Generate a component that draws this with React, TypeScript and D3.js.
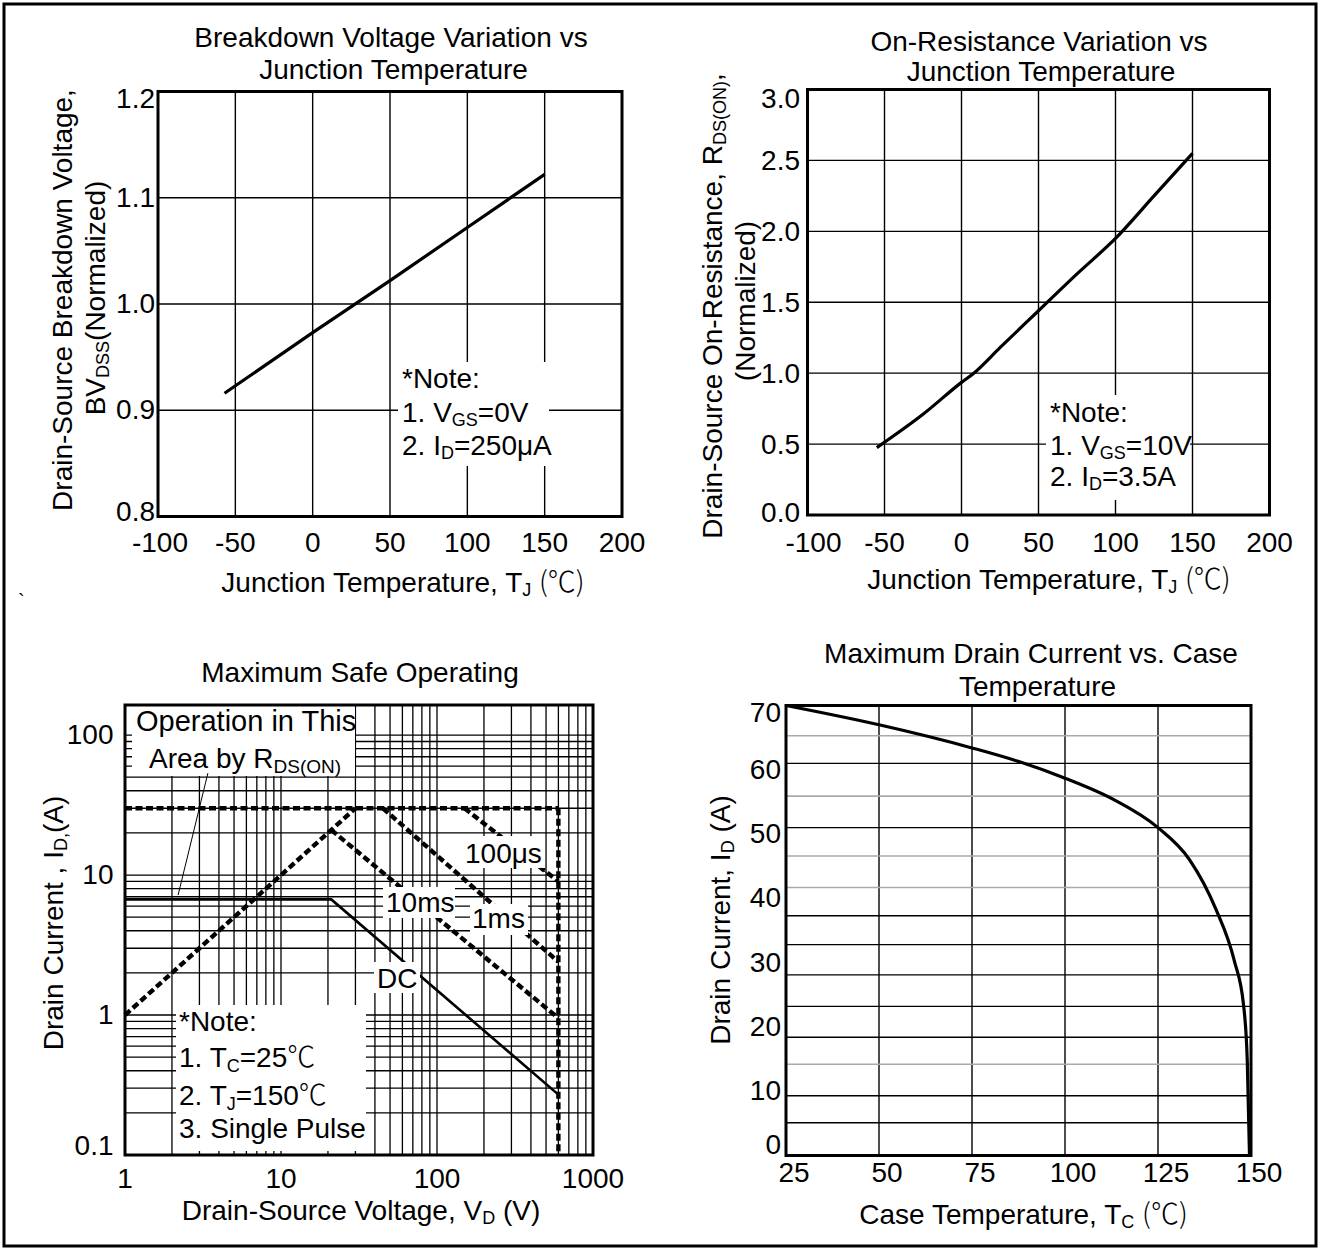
import React from 'react';
import * as d3 from 'd3';

const FONT = "'Liberation Sans', Arial, Helvetica, sans-serif";
const CJK = "'Noto Sans CJK SC', 'DejaVu Sans', sans-serif";
const FS = 28;
const SUB = 18;

// ---------- Panel 1: Breakdown voltage vs junction temperature ----------
const bvTemp = [-57, 0, 50, 100, 150];
const bvValue = [0.916, 0.973, 1.022, 1.072, 1.122];
const bvXTicks = [-100, -50, 0, 50, 100, 150, 200];
const bvYTicks = [0.8, 0.9, 1.0, 1.1, 1.2];

// ---------- Panel 2: On-resistance vs junction temperature ----------
const rdsTemp = [-55, -25, 0, 8, 25, 50, 75, 100, 125, 150];
const rdsValue = [0.475, 0.71, 0.935, 1.0, 1.18, 1.44, 1.7, 1.95, 2.25, 2.55];
const rdsXTicks = [-100, -50, 0, 50, 100, 150, 200];
const rdsYTicks = [0, 0.5, 1.0, 1.5, 2.0, 2.5, 3.0];

// ---------- Panel 3: Safe operating area ----------
const soaXTicks = [1, 10, 100, 1000];
const soaYTicks = [0.1, 1, 10, 100];
const rdsLimitV = [1, 30];
const rdsLimitI = [1, 30];
const currentLimitV = [1, 600];
const currentLimitI = [30, 30];
const voltageLimitV = [600, 600];
const voltageLimitI = [30, 0.1];
const pulse100usV = [150, 600];
const pulse100usI = [30, 9];
const pulse1msV = [45, 600];
const pulse1msI = [30, 2.4];
const pulse10msV = [21, 600];
const pulse10msI = [21, 0.95];
const dcV = [1, 21, 600];
const dcI = [6.7, 6.7, 0.27];

// ---------- Panel 4: Max drain current vs case temperature ----------
const caseTemp = [25, 50, 75, 88, 100, 113, 125, 133.5, 140.5, 145.5, 148, 149, 149.6];
const drainCurrent = [70, 67, 63.4, 61.2, 58.7, 55.4, 51, 46, 38.4, 30.3, 23.4, 14.7, 0];
const caseXTicks = [25, 50, 75, 100, 125, 150];
const caseYTicks = [0, 10, 20, 30, 40, 50, 60, 70];
const caseXGrid = [50, 75, 100, 125];
const caseGridDark = [61, 51, 37.3, 32.8, 28.1, 23.2, 18.4, 9.3, 5.1];
const caseGridLight = [65.3, 55.9, 46.6, 41.7, 14.2];

const zip = (a: number[], b: number[]) => a.map((v, i) => [v, b[i]] as [number, number]);

export default function App() {
  // scales
  const p1x = d3.scaleLinear().domain([-100, 200]).range([158, 622]);
  const p1y = d3.scaleLinear().domain([0.8, 1.2]).range([516.5, 91.5]);
  const p2x = d3.scaleLinear().domain([-100, 200]).range([807.5, 1269.5]);
  const p2y = d3.scaleLinear().domain([0, 3]).range([515, 89.5]);
  const p3x = d3.scaleLog().domain([1, 1000]).range([125, 593]);
  const p3y = d3.scaleLog().domain([0.1, 164]).range([1155, 705]);
  const p4x = d3.scaleLinear().domain([25, 150]).range([786, 1251]);
  const p4y = d3.scaleLinear().domain([0, 70]).range([1155.5, 705.5]);

  const line1 = d3.line<[number, number]>().x(d => p1x(d[0])).y(d => p1y(d[1]));
  const line2 = d3.line<[number, number]>().x(d => p2x(d[0])).y(d => p2y(d[1])).curve(d3.curveMonotoneX);
  const line3 = d3.line<[number, number]>().x(d => p3x(d[0])).y(d => p3y(d[1]));
  const line4 = d3.line<[number, number]>().x(d => p4x(d[0])).y(d => p4y(d[1])).curve(d3.curveMonotoneX);

  const soaXGrid = p3x.ticks();
  const soaYGrid = p3y.ticks().filter(v => v <= 100);

  const dotted = { stroke: '#000', strokeWidth: 4.4, strokeDasharray: '7 3.5', fill: 'none' } as any;
  const sub = (t: string, dy = 4, size = SUB) => (
    <tspan fontSize={size} dy={dy}>{t}</tspan>
  );

  return (
    <svg width={1325} height={1249} style={{ position: 'absolute', left: 0, top: 0, background: '#fff' }}
      fontFamily={FONT} fontSize={FS} fill="#000">
      <rect x={0} y={0} width={1325} height={1249} fill="#fff" />
      <rect x={4} y={4} width={1312} height={1242} fill="none" stroke="#000" strokeWidth={3} />
      <text x={18} y={608} fontSize={20}>`</text>

      {/* ================= Panel 1 ================= */}
      <g>
        {bvXTicks.slice(1, -1).map(v => (
          <line key={'p1gx' + v} x1={p1x(v)} x2={p1x(v)} y1={p1y(1.2)} y2={p1y(0.8)} stroke="#000" strokeWidth={1.4} />
        ))}
        {bvYTicks.slice(1, -1).map(v => (
          <line key={'p1gy' + v} x1={p1x(-100)} x2={p1x(200)} y1={p1y(v)} y2={p1y(v)} stroke="#000" strokeWidth={1.4} />
        ))}
        <path d={line1(zip(bvTemp, bvValue)) || ''} fill="none" stroke="#000" strokeWidth={3.2} />
        <rect x={398} y={362} width={151} height={104} fill="#fff" />
        <rect x={p1x(-100)} y={p1y(1.2)} width={p1x(200) - p1x(-100)} height={p1y(0.8) - p1y(1.2)} fill="none" stroke="#000" strokeWidth={3} />
        <text x={391} y={46.5} textAnchor="middle">Breakdown Voltage Variation vs</text>
        <text x={393.5} y={79} textAnchor="middle">Junction Temperature</text>
        {bvXTicks.map(v => (
          <text key={'p1tx' + v} x={p1x(v) + (v === -100 ? 2 : 0)} y={552} textAnchor="middle">{v}</text>
        ))}
        {bvYTicks.map(v => (
          <text key={'p1ty' + v} x={155} y={Math.min(Math.max(p1y(v) + 9, 107.5), 521)} textAnchor="end">{v.toFixed(1)}</text>
        ))}
        <text transform="translate(72,300) rotate(-90)" textAnchor="middle">Drain-Source Breakdown Voltage,</text>
        <text transform="translate(105,298) rotate(-90)" textAnchor="middle">BV{sub('DSS')}<tspan dy={-4}>(Normalized)</tspan></text>
        <text x={403} y={592} textAnchor="middle">Junction Temperature, T{sub('J', 4, SUB)}<tspan dy={-4}> </tspan><tspan fontFamily={CJK} fontWeight={300}>(℃)</tspan></text>
        <text x={402} y={387.5}>*Note:</text>
        <text x={402} y={422}>1. V{sub('GS')}<tspan dy={-4}>=0V</tspan></text>
        <text x={402} y={454.5}>2. I{sub('D')}<tspan dy={-4}>=250μA</tspan></text>
      </g>

      {/* ================= Panel 2 ================= */}
      <g>
        {rdsXTicks.slice(1, -1).map(v => (
          <line key={'p2gx' + v} x1={p2x(v)} x2={p2x(v)} y1={p2y(3)} y2={p2y(0)} stroke="#000" strokeWidth={1.4} />
        ))}
        {rdsYTicks.slice(1, -1).map(v => (
          <line key={'p2gy' + v} x1={p2x(-100)} x2={p2x(200)} y1={p2y(v)} y2={p2y(v)} stroke="#000" strokeWidth={1.4} />
        ))}
        <path d={line2(zip(rdsTemp, rdsValue)) || ''} fill="none" stroke="#000" strokeWidth={3.2} />
        <rect x={1046} y={395} width={144} height={105} fill="#fff" />
        <rect x={p2x(-100)} y={p2y(3)} width={p2x(200) - p2x(-100)} height={p2y(0) - p2y(3)} fill="none" stroke="#000" strokeWidth={3} />
        <text x={1039} y={50.5} textAnchor="middle">On-Resistance Variation vs</text>
        <text x={1041} y={81} textAnchor="middle">Junction Temperature</text>
        {rdsXTicks.map(v => (
          <text key={'p2tx' + v} x={p2x(v) + (v === -100 ? 6 : 0)} y={551.5} textAnchor="middle">{v}</text>
        ))}
        {rdsYTicks.map(v => (
          <text key={'p2ty' + v} x={800} y={Math.min(Math.max(p2y(v) + 9.5, 108), 522)} textAnchor="end">{v.toFixed(1)}</text>
        ))}
        <text transform="translate(722,306) rotate(-90)" textAnchor="middle">Drain-Source On-Resistance, R{sub('DS(ON)')}<tspan dy={-4}>,</tspan></text>
        <text transform="translate(755,301) rotate(-90)" textAnchor="middle">(Normalized)</text>
        <text x={1049} y={589} textAnchor="middle">Junction Temperature, T{sub('J')}<tspan dy={-4}> </tspan><tspan fontFamily={CJK} fontWeight={300}>(℃)</tspan></text>
        <text x={1050} y={422}>*Note:</text>
        <text x={1050} y={454.5}>1. V{sub('GS')}<tspan dy={-4}>=10V</tspan></text>
        <text x={1050} y={486}>2. I{sub('D')}<tspan dy={-4}>=3.5A</tspan></text>
      </g>

      {/* ================= Panel 3: SOA ================= */}
      <g>
        {soaXGrid.map(v => (
          <line key={'p3gx' + v} x1={p3x(v)} x2={p3x(v)} y1={705} y2={1155} stroke="#000" strokeWidth={1.3} />
        ))}
        {soaYGrid.map(v => (
          <line key={'p3gy' + v} x1={125} x2={593} y1={p3y(v)} y2={p3y(v)} stroke="#000" strokeWidth={1.3} />
        ))}
        <path d={line3(zip(dcV, dcI)) || ''} fill="none" stroke="#000" strokeWidth={2.6} />
        <path d={line3(zip(rdsLimitV, rdsLimitI)) || ''} {...dotted} />
        <path d={line3(zip(currentLimitV, currentLimitI)) || ''} {...dotted} />
        <path d={line3(zip(voltageLimitV, voltageLimitI)) || ''} {...dotted} />
        <path d={line3(zip(pulse100usV, pulse100usI)) || ''} {...dotted} />
        <path d={line3(zip(pulse1msV, pulse1msI)) || ''} {...dotted} />
        <path d={line3(zip(pulse10msV, pulse10msI)) || ''} {...dotted} />

        <rect x={132} y={706} width={223} height={70} fill="#fff" />
        <rect x={176} y={1005} width={190} height={146} fill="#fff" />
        <rect x={462} y={836} width={83} height={32} fill="#fff" />
        <rect x={383} y={887} width={72} height={31} fill="#fff" />
        <rect x={470} y={904} width={58} height={31} fill="#fff" />
        <rect x={374} y={962} width={46} height={31} fill="#fff" />

        <line x1={p3x(3.4)} y1={p3y(53.5)} x2={p3x(2.19)} y2={p3y(7.2)} stroke="#000" strokeWidth={1} />
        <line x1={540} y1={868} x2={552} y2={877} stroke="#000" strokeWidth={1} />

        <rect x={125} y={705} width={468} height={450} fill="none" stroke="#000" strokeWidth={3} />

        <text x={360} y={682} textAnchor="middle">Maximum Safe Operating</text>
        {soaXTicks.map(v => (
          <text key={'p3tx' + v} x={p3x(v)} y={1187.5} textAnchor="middle">{v}</text>
        ))}
        {soaYTicks.map(v => (
          <text key={'p3ty' + v} x={113.5} y={Math.min(p3y(v), 1146) + 9} textAnchor="end">{v}</text>
        ))}
        <text transform="translate(63,923) rotate(-90)" textAnchor="middle">Drain Current , I{sub('D,')}<tspan dy={-4}>(A)</tspan></text>
        <text x={361} y={1219.5} textAnchor="middle">Drain-Source Voltage, V{sub('D')}<tspan dy={-4}> (V)</tspan></text>

        <text x={136} y={731} fontSize={29}>Operation in This</text>
        <text x={149} y={768}>Area by R{sub('DS(ON)', 5, 19)}</text>

        <text x={465} y={863}>100μs</text>
        <text x={386} y={912}>10ms</text>
        <text x={472} y={928}>1ms</text>
        <text x={377} y={988}>DC</text>

        <text x={179} y={1031}>*Note:</text>
        <text x={179} y={1067}>1. T{sub('C', 5)}<tspan dy={-5}>=25</tspan><tspan fontFamily={CJK} fontWeight={300}>℃</tspan></text>
        <text x={179} y={1105}>2. T{sub('J', 5)}<tspan dy={-5}>=150</tspan><tspan fontFamily={CJK} fontWeight={300}>℃</tspan></text>
        <text x={179} y={1138}>3. Single Pulse</text>
      </g>

      {/* ================= Panel 4 ================= */}
      <g>
        {caseXGrid.map(v => (
          <line key={'p4gx' + v} x1={p4x(v)} x2={p4x(v)} y1={p4y(70)} y2={p4y(0)} stroke="#000" strokeWidth={1.4} />
        ))}
        {caseGridLight.map(v => (
          <line key={'p4gl' + v} x1={p4x(25)} x2={p4x(150)} y1={p4y(v)} y2={p4y(v)} stroke="#aaa" strokeWidth={1.6} />
        ))}
        {caseGridDark.map(v => (
          <line key={'p4gd' + v} x1={p4x(25)} x2={p4x(150)} y1={p4y(v)} y2={p4y(v)} stroke="#000" strokeWidth={1.4} />
        ))}
        <path d={line4(zip(caseTemp, drainCurrent)) || ''} fill="none" stroke="#000" strokeWidth={3.2} />
        <rect x={p4x(25)} y={p4y(70)} width={p4x(150) - p4x(25)} height={p4y(0) - p4y(70)} fill="none" stroke="#000" strokeWidth={3} />
        <text x={1031} y={663} textAnchor="middle">Maximum Drain Current vs. Case</text>
        <text x={1037.5} y={696} textAnchor="middle">Temperature</text>
        {caseXTicks.map(v => (
          <text key={'p4tx' + v} x={p4x(v) + 8} y={1181.5} textAnchor="middle">{v}</text>
        ))}
        {caseYTicks.map(v => (
          <text key={'p4ty' + v} x={781} y={Math.min(Math.max(p4y(v), 713), 1145) + 9} textAnchor="end">{v}</text>
        ))}
        <text transform="translate(730,920) rotate(-90)" textAnchor="middle">Drain Current, I{sub('D')}<tspan dy={-4}> (A)</tspan></text>
        <text x={1023.5} y={1224} textAnchor="middle">Case Temperature, T{sub('C')}<tspan dy={-4}> </tspan><tspan fontFamily={CJK} fontWeight={300}>(℃)</tspan></text>
      </g>
    </svg>
  );
}
